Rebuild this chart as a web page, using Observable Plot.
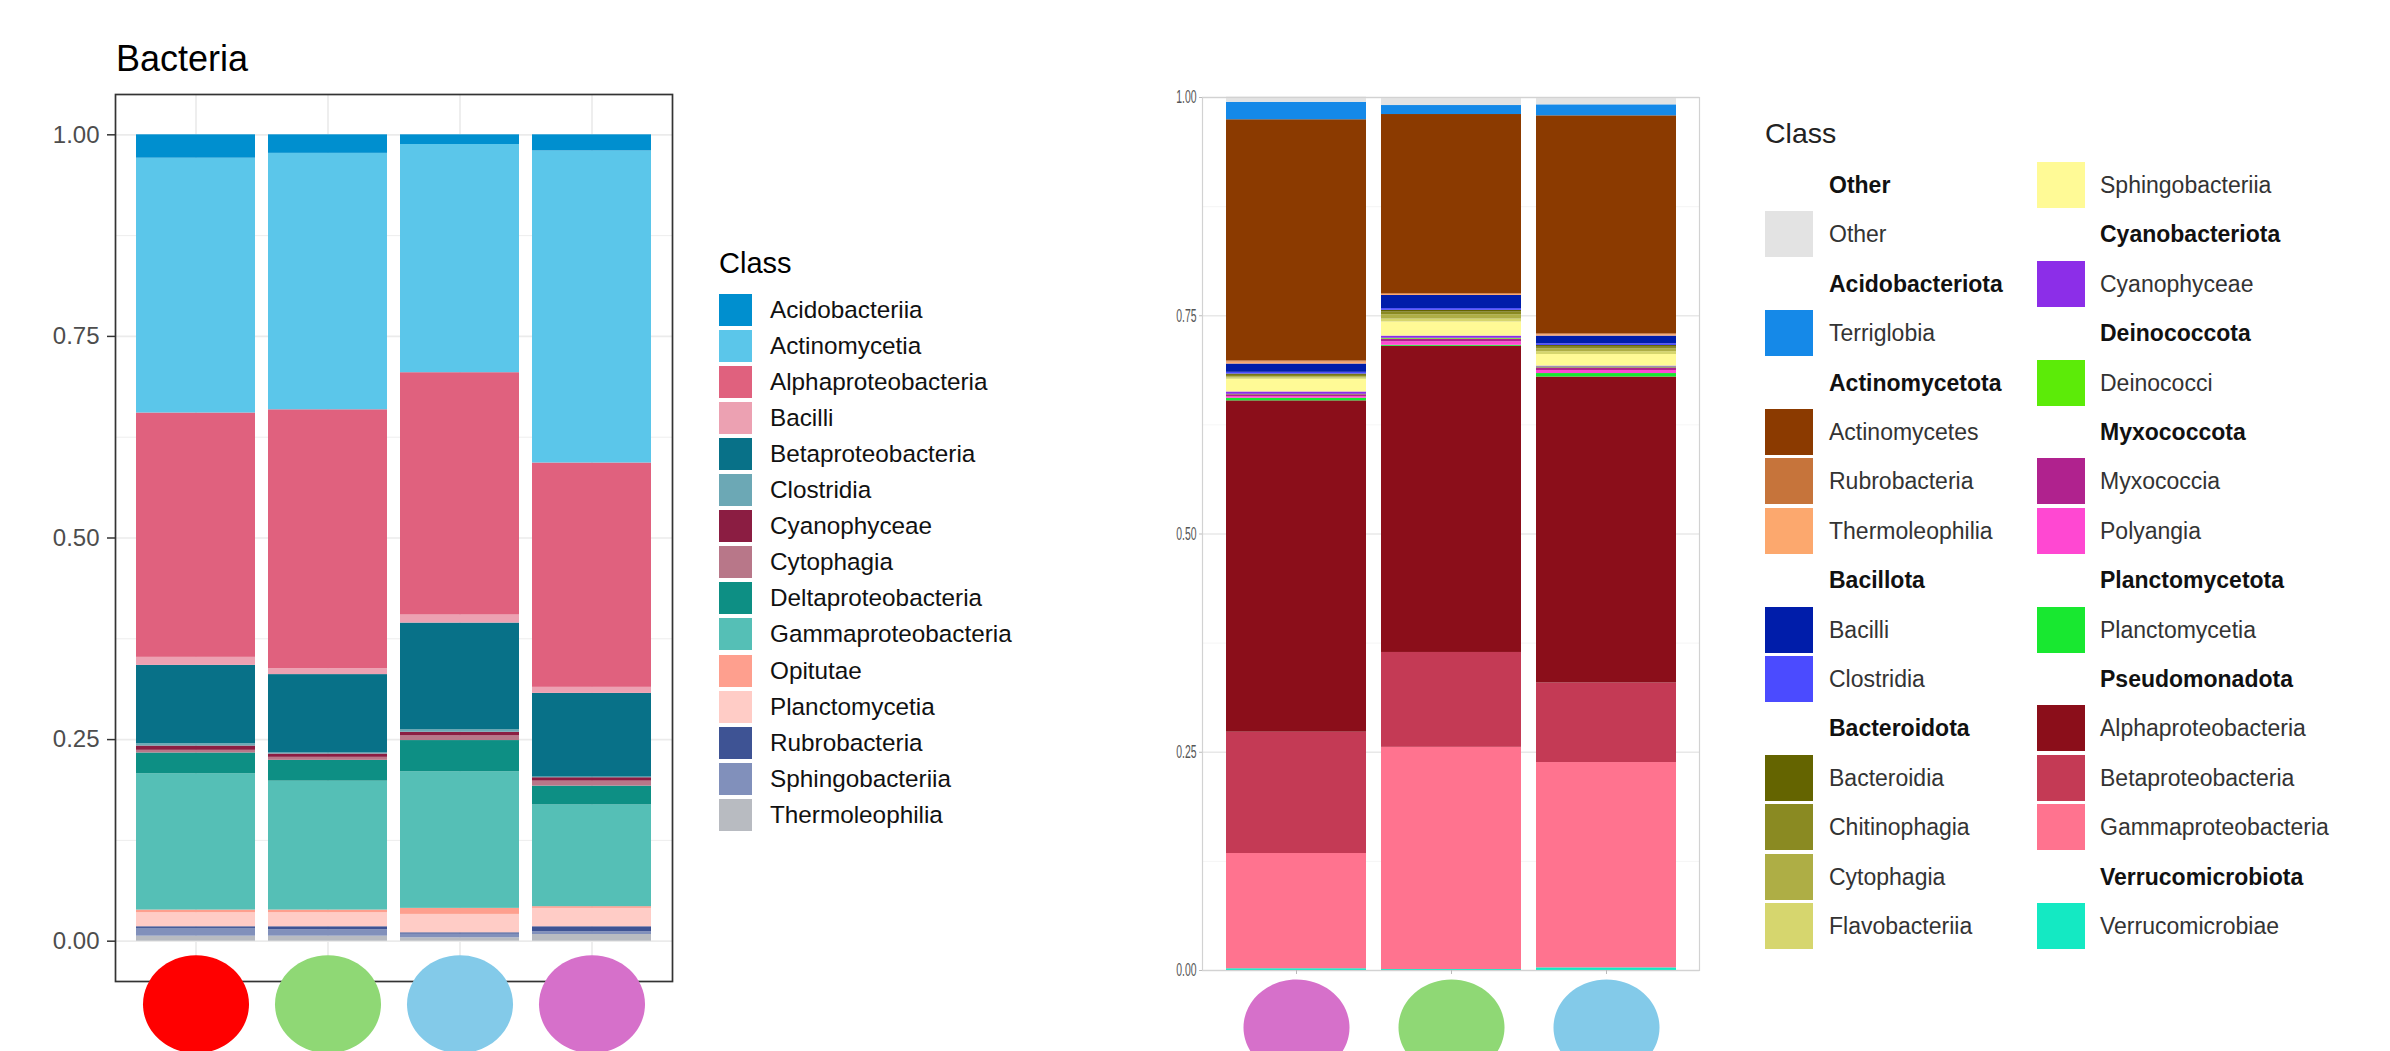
<!DOCTYPE html>
<html>
<head>
<meta charset="utf-8">
<script src="https://cdn.jsdelivr.net/npm/d3@7"></script>
<script src="https://cdn.jsdelivr.net/npm/@observablehq/plot@0.6"></script>
<style>
  html, body { margin: 0; padding: 0; background: #fff; }
  body { width: 2390px; height: 1051px; position: relative; overflow: hidden;
         font-family: "Liberation Sans", Arial, Helvetica, sans-serif; }
  .abs { position: absolute; }
  #title1 { left: 116px; top: 41px; font-size: 36px; line-height: 36px; color: #000; white-space: nowrap; }
  .legtitle { font-size: 29px; line-height: 34px; white-space: nowrap; }
  .sw { position: absolute; }
  .lab { position: absolute; white-space: nowrap; }
</style>
</head>
<body>
<div id="left" class="abs" style="left:0;top:0"></div>
<div id="right" class="abs" style="left:1100px;top:0"></div>
<div id="title1" class="abs">Bacteria</div>
<div id="leg1" class="abs" style="left:0;top:0"></div>
<div id="leg2" class="abs" style="left:0;top:0"></div>
<script>
// ---------- Left chart: Bacteria (4 samples) ----------
const leftSamples = ["Site A", "Site B", "Site C", "Site D"];
const leftMarkerColors = ["#FF0000", "#8FD875", "#83CAE9", "#D670CA"];
const bacteriaClasses = ["Acidobacteriia", "Actinomycetia", "Alphaproteobacteria", "Bacilli",
  "Betaproteobacteria", "Clostridia", "Cyanophyceae", "Cytophagia", "Deltaproteobacteria",
  "Gammaproteobacteria", "Opitutae", "Planctomycetia", "Rubrobacteria", "Sphingobacteriia", "Thermoleophilia"];
const bacteriaColors = ["#008FCF", "#5BC6EA", "#E0617E", "#ECA1B2", "#087188", "#6CA8B5", "#8B1D42",
  "#B87789", "#0D8F84", "#55BFB6", "#FE9F8E", "#FFCCC6", "#3E5394", "#8190BB", "#B8BBC1"];
const siteAValues = [0.029, 0.316, 0.303, 0.010, 0.097, 0.003, 0.0053, 0.0033, 0.0258, 0.169, 0.0033, 0.0174, 0.0021, 0.0096, 0.0062];
const siteBValues = [0.023, 0.318, 0.321, 0.0074, 0.0972, 0.0013, 0.0041, 0.0037, 0.0258, 0.1599, 0.0033, 0.0174, 0.0038, 0.0079, 0.0062];
const siteCValues = [0.012, 0.283, 0.3005, 0.010, 0.132, 0.0034, 0.0045, 0.0058, 0.0387, 0.1694, 0.0075, 0.0228, 0.0017, 0.0045, 0.0042];
const siteDValues = [0.020, 0.387, 0.2782, 0.0075, 0.1038, 0.0008, 0.0042, 0.0062, 0.0233, 0.1262, 0.0021, 0.0228, 0.0063, 0.0033, 0.0083];
const leftTicks = [0, 0.25, 0.5, 0.75, 1];
const leftMinorTicks = [0.125, 0.375, 0.625, 0.875];

// ---------- Right chart: 3 samples ----------
const rightSamples = ["Site D", "Site B", "Site C"];
const rightMarkerColors = ["#D670CA", "#8FD875", "#83CAE9"];
const rightClasses = ["Other", "Terriglobia", "Actinomycetes", "Rubrobacteria", "Thermoleophilia",
  "Bacilli", "Clostridia", "Bacteroidia", "Chitinophagia", "Cytophagia", "Flavobacteriia",
  "Sphingobacteriia", "Cyanophyceae", "Deinococci", "Myxococcia", "Polyangia", "Planctomycetia",
  "Alphaproteobacteria", "Betaproteobacteria", "Gammaproteobacteria", "Verrucomicrobiae"];
const rightColors = ["#E3E3E3", "#1589E8", "#8B3A00", "#C6743B", "#FCA86E", "#001DAA", "#4B4BFF",
  "#646400", "#8A8A22", "#AEAE45", "#D6D66E", "#FFFA96", "#8C2EE8", "#5CEB08", "#B0228E", "#FF48D2",
  "#18E830", "#8B0E1A", "#C43A55", "#FF738F", "#14E9C3"];
const rightSiteDValues = [0.006, 0.020, 0.276, 0.0015, 0.0023, 0.0095, 0.002, 0.0015, 0.0015, 0.0015, 0.0015,
  0.0145, 0.0027, 0.0005, 0.002, 0.002, 0.003, 0.3795, 0.139, 0.132, 0.002];
const rightSiteBValues = [0.0092, 0.0103, 0.205, 0.001, 0.0013, 0.015, 0.002, 0.002, 0.003, 0.005, 0.0033,
  0.0162, 0.0025, 0.001, 0.003, 0.004, 0.0012, 0.3507, 0.1087, 0.2545, 0.0011];
const rightSiteCValues = [0.0084, 0.0126, 0.2496, 0.001, 0.0017, 0.0088, 0.002, 0.002, 0.002, 0.003, 0.0033,
  0.0133, 0.001, 0.001, 0.003, 0.0035, 0.004, 0.3505, 0.0911, 0.2352, 0.003];
const rightLegendLabels = ["Other", "Other", "Acidobacteriota", "Terriglobia", "Actinomycetota",
  "Actinomycetes", "Rubrobacteria", "Thermoleophilia", "Bacillota", "Bacilli", "Clostridia",
  "Bacteroidota", "Bacteroidia", "Chitinophagia", "Cytophagia", "Flavobacteriia",
  "Sphingobacteriia", "Cyanobacteriota", "Cyanophyceae", "Deinococcota", "Deinococci",
  "Myxococcota", "Myxococcia", "Polyangia", "Planctomycetota", "Planctomycetia",
  "Pseudomonadota", "Alphaproteobacteria", "Betaproteobacteria", "Gammaproteobacteria",
  "Verrucomicrobiota", "Verrucomicrobiae"];
const rightLegendIsHeader = [1,0,1,0,1,0,0,0,1,0,0,1,0,0,0,0, 0,1,0,1,0,1,0,0,1,0,1,0,0,0,1,0];
const rightTicks = [0, 0.25, 0.5, 0.75, 1];
const rightMinorTicks = [0.125, 0.375, 0.625, 0.875];

// ---------- build tables (bottom class first so the first legend class sits on top) ----------
function buildTable(samples, classes, valueArrays) {
  const rows = [];
  for (let c = classes.length - 1; c >= 0; c--) {
    samples.forEach((s, i) => rows.push({sample: s, cls: classes[c], value: valueArrays[i][c]}));
  }
  return rows;
}
const leftData = buildTable(leftSamples, bacteriaClasses, [siteAValues, siteBValues, siteCValues, siteDValues]);
const rightData = buildTable(rightSamples, rightClasses, [rightSiteDValues, rightSiteBValues, rightSiteCValues]);

function ellipseSymbol(rx, ry) {
  const k = 0.5523;
  return {draw(ctx) {
    ctx.moveTo(rx, 0);
    ctx.bezierCurveTo(rx, ry * k, rx * k, ry, 0, ry);
    ctx.bezierCurveTo(-rx * k, ry, -rx, ry * k, -rx, 0);
    ctx.bezierCurveTo(-rx, -ry * k, -rx * k, -ry, 0, -ry);
    ctx.bezierCurveTo(rx * k, -ry, rx, -ry * k, rx, 0);
    ctx.closePath();
  }};
}

const fmt = d3.format(".2f");

const leftPlot = Plot.plot({
  width: 700, height: 1051,
  marginLeft: 115, marginRight: 28, marginTop: 94, marginBottom: 70,
  x: {domain: leftSamples, type: "band", paddingInner: 0.1, paddingOuter: 0.15, axis: null},
  y: {domain: [-0.05, 1.05], axis: null, label: null},
  color: {domain: bacteriaClasses, range: bacteriaColors},
  style: {fontFamily: "'Liberation Sans', Arial, sans-serif", background: "transparent", overflow: "visible"},
  marks: [
    Plot.gridY(leftMinorTicks, {stroke: "#EBEBEB", strokeOpacity: 1, strokeWidth: 0.9}),
    Plot.gridY(leftTicks, {stroke: "#EBEBEB", strokeOpacity: 1, strokeWidth: 1.7}),
    Plot.gridX(leftSamples, {stroke: "#EBEBEB", strokeOpacity: 1, strokeWidth: 1.7}),
    Plot.barY(leftData, {x: "sample", y: "value", fill: "cls"}),
    Plot.frame({stroke: "#333333", strokeWidth: 1.7}),
    Plot.axisY(leftTicks, {tickFormat: fmt, tickSize: 8, tickPadding: 8, fontSize: 24, label: null,
      stroke: "#333333", fill: "#4D4D4D", strokeWidth: 1.5}),
    ...leftSamples.map((s, i) => Plot.dot([s], {x: d => d, y: d => 0, dy: 63,
      symbol: ellipseSymbol(53, 49), fill: leftMarkerColors[i]}))
  ]
});
document.getElementById("left").appendChild(leftPlot);

const rightPlot = Plot.plot({
  width: 620, height: 1051,
  marginLeft: 102, marginRight: 21, marginTop: 97, marginBottom: 81,
  x: {domain: rightSamples, type: "band", paddingInner: 0.1, paddingOuter: 0.15, axis: null, label: null},
  y: {domain: [0, 1], axis: null, label: null},
  color: {domain: rightClasses, range: rightColors},
  style: {fontFamily: "'Liberation Sans', Arial, sans-serif", background: "transparent", overflow: "visible"},
  marks: [
    Plot.gridY(rightMinorTicks, {stroke: "#F2F2F2", strokeOpacity: 1, strokeWidth: 0.8}),
    Plot.gridY(rightTicks, {stroke: "#E8E8E8", strokeOpacity: 1, strokeWidth: 1.4}),
    Plot.barY(rightData, {x: "sample", y: "value", fill: "cls"}),
    Plot.frame({stroke: "#D2D2D2", strokeWidth: 1.2}),
    Plot.axisY(rightTicks, {tickFormat: fmt, tickSize: 3, tickPadding: 3, fontSize: 18, label: null,
      stroke: "#BBBBBB", fill: "#555555"}),
    Plot.axisX(rightSamples, {tickFormat: () => "", tickSize: 4, stroke: "#BBBBBB", label: null}),
    ...rightSamples.map((s, i) => Plot.dot([s], {x: d => d, y: d => 0, dy: 57,
      symbol: ellipseSymbol(53, 48), fill: rightMarkerColors[i]}))
  ]
});
document.getElementById("right").appendChild(rightPlot);
// the right panel's tick labels are horizontally squeezed in the original
rightPlot.querySelectorAll('g[aria-label="y-axis tick label"] text').forEach(t => {
  t.setAttribute("transform", (t.getAttribute("transform") || "") + " scale(0.58,1)");
});

// ---------- Legends ----------
function el(tag, cls, styles, text) {
  const e = document.createElement(tag);
  if (cls) e.className = cls;
  Object.assign(e.style, styles);
  if (text != null) e.textContent = text;
  return e;
}
const leg1 = document.getElementById("leg1");
leg1.appendChild(el("div", "abs legtitle", {left: "719px", top: "246px", color: "#000"}, "Class"));
bacteriaClasses.forEach((c, i) => {
  const cy = 310 + 36.05 * i;
  leg1.appendChild(el("div", "sw", {left: "719px", top: (cy - 16) + "px", width: "33px", height: "32px",
    background: bacteriaColors[i]}));
  leg1.appendChild(el("div", "lab", {left: "770px", top: (cy - 17) + "px", height: "34px", lineHeight: "34px",
    fontSize: "24.3px", color: "#111"}, c));
});

const leg2 = document.getElementById("leg2");
leg2.appendChild(el("div", "abs legtitle", {left: "1765px", top: "116px", color: "#222", fontSize: "28.5px"}, "Class"));
const colorOf = new Map(rightClasses.map((c, i) => [c, rightColors[i]]));
rightLegendLabels.forEach((lab, i) => {
  const col = i < 16 ? 0 : 1;
  const r = i % 16;
  const cy = 185 + 49.4 * r;
  const sx = col === 0 ? 1765 : 2037;
  const tx = col === 0 ? 1829 : 2100;
  const header = rightLegendIsHeader[i] === 1;
  if (!header) {
    leg2.appendChild(el("div", "sw", {left: sx + "px", top: (cy - 23) + "px", width: "48px", height: "46px",
      background: colorOf.get(lab)}));
  }
  leg2.appendChild(el("div", "lab", {left: tx + "px", top: (cy - 17) + "px", height: "34px", lineHeight: "34px",
    fontSize: "23px", color: header ? "#111" : "#333", fontWeight: header ? "bold" : "normal"}, lab));
});
</script>
</body>
</html>
